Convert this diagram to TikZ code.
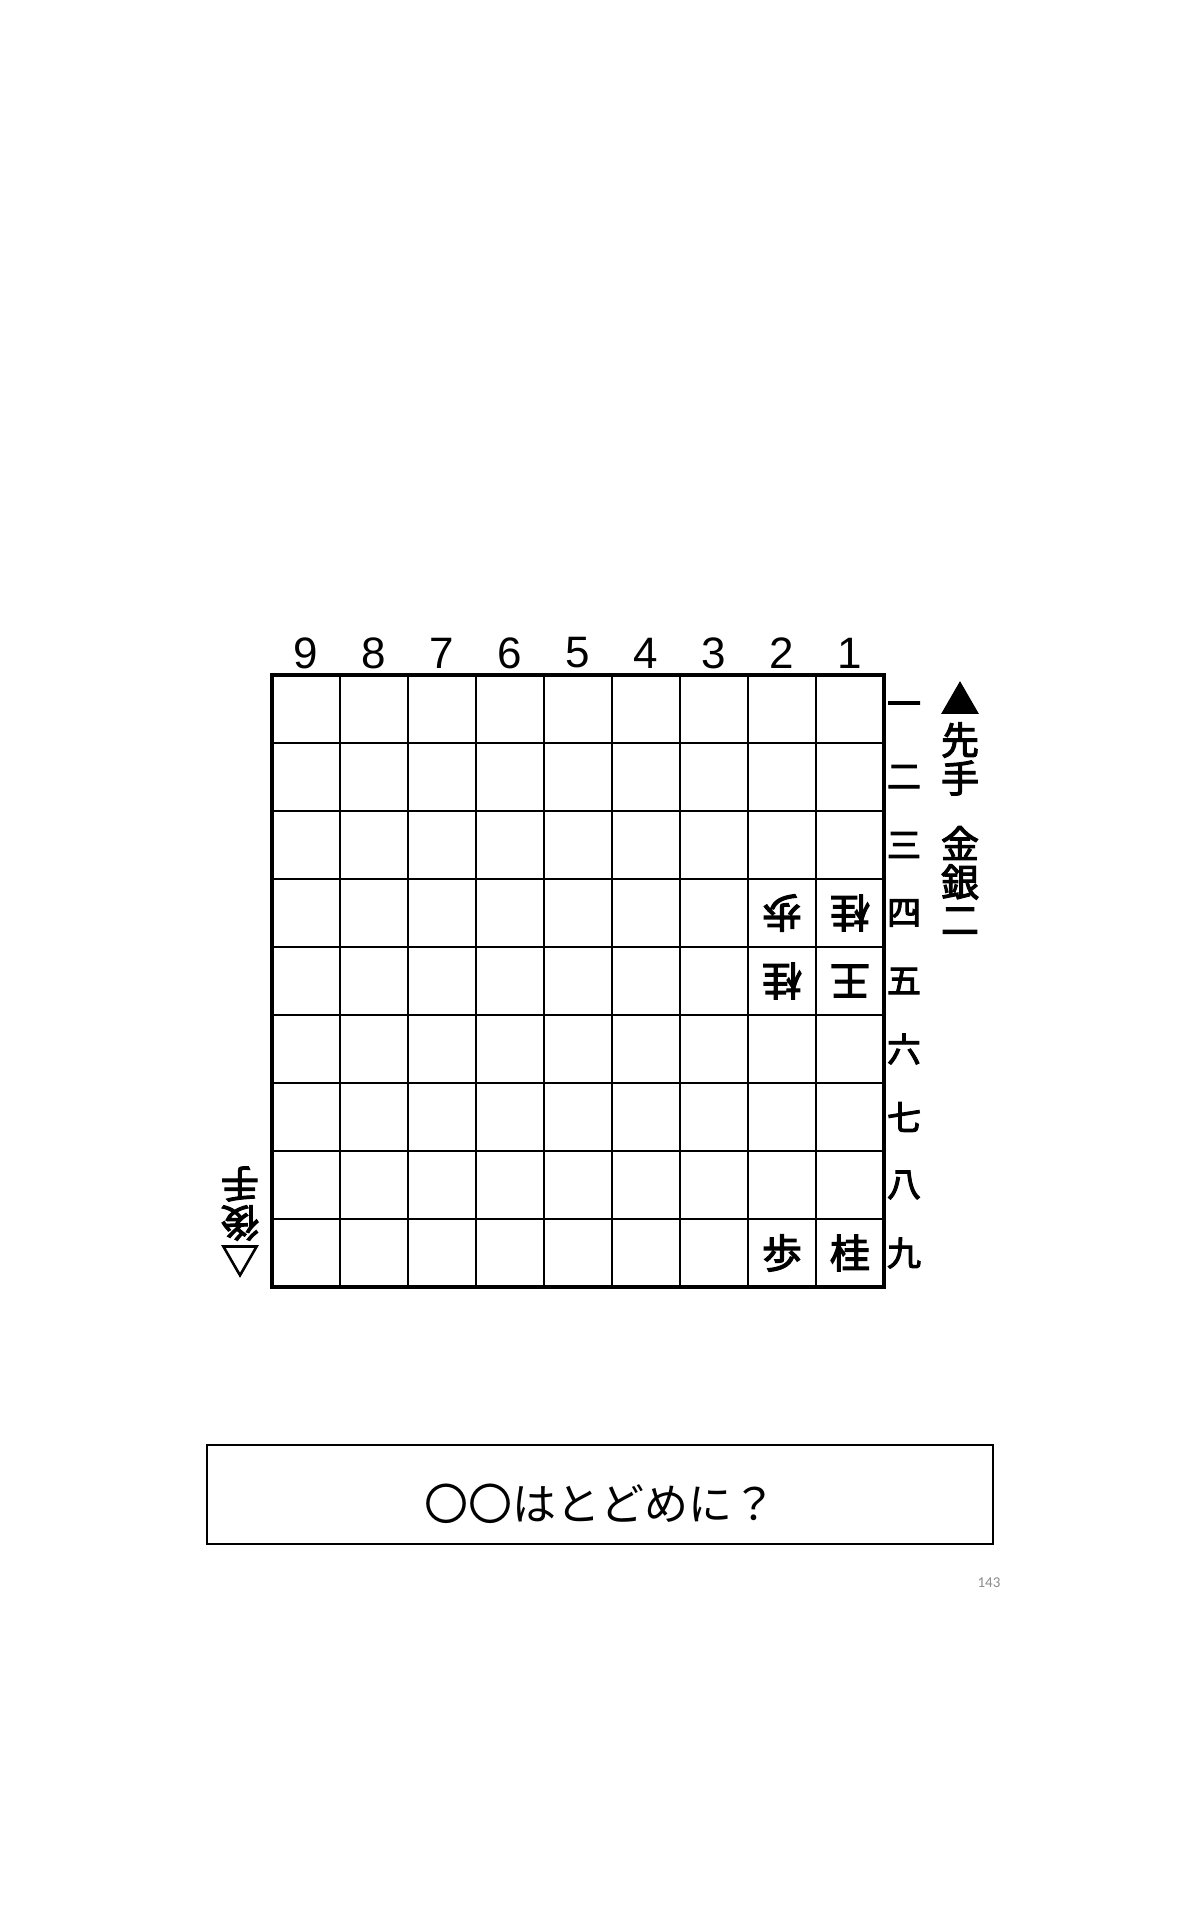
\documentclass[tikz,border=0pt]{standalone}
\usepackage{fontspec}
\usepackage{tikz}
\usetikzlibrary{positioning}
\newfontfamily\jpfont{Noto Sans CJK JP}
\newfontfamily\jpmed{Noto Sans CJK JP}[FakeBold=3]
\newfontfamily\numfont{Liberation Sans}
\newfontfamily\pgfont{Carlito}
\definecolor{pagegray}{RGB}{140,140,140}
\newcommand{\bx}{272}
\newcommand{\by}{675}
\newcommand{\cs}{68}

\begin{document}
\begin{tikzpicture}[x=0.5pt, y=-0.5pt,
    piece/.style={font=\jpmed\fontsize{20pt}{20pt}\selectfont, inner sep=0pt},
    gote/.style={piece, rotate=180},
    rowlab/.style={font=\jpmed\fontsize{17pt}{17pt}\selectfont, inner sep=0pt},
    collab/.style={font=\numfont\fontsize{22pt}{22pt}\selectfont, inner sep=0pt},
    side/.style={font=\jpmed\fontsize{19pt}{19pt}\selectfont, inner sep=0pt}]
    \useasboundingbox[fill=white] (0,0) rectangle (1200,1920);
    % board
    \foreach \i in {1,...,8} {
      \draw[line width=0.7pt] (\bx+\cs*\i,\by) -- (\bx+\cs*\i,\by+\cs*9);
      \draw[line width=0.7pt] (\bx,\by+\cs*\i) -- (\bx+\cs*9,\by+\cs*\i);
    }
    \draw[line width=1.8pt] (\bx,\by) rectangle (\bx+\cs*9,\by+\cs*9);
    % files and ranks
    \foreach \n [count=\i] in {9,8,7,6,5,4,3,2,1}
      \node[collab] (col\n) at (\bx+\cs*\i-\cs/2,653) {\n};
    \foreach \k [count=\i] in {一,二,三,四,五,六,七,八,九}
      \node[rowlab] (row\i) at (904,\by+\cs*\i-\cs/2) {\k};
    % pieces
    \node[gote]  (p24) at (782,913) {歩};
    \node[gote]  (p14) at (850,913) {桂};
    \node[gote]  (p25) at (782,981) {桂};
    \node[gote]  (p15) at (850,981) {王};
    \node[piece] (p29) at (782,1253) {歩};
    \node[piece] (p19) at (850,1253) {桂};
    % hands
    \foreach \c/\y [count=\i] in {▲/698,先/740,手/778,金/843,銀/882,二/921}
      \node[side] (sente\i) at (960,\y) {\c};
    \node[side, rotate=180] (gote1) at (240,1261) {△};
    \node[side, rotate=180] (gote2) at (240,1223) {後};
    \node[side, rotate=180] (gote3) at (240,1184) {手};
    % question
    \node[draw, line width=1pt, minimum width=786*0.5pt, minimum height=99*0.5pt,
      inner sep=0pt] (qbox) at (600,1494) {};
    \node[font=\jpfont\fontsize{22pt}{22pt}\selectfont] (qtext) at (600,1504)
      {〇〇はとどめに？};
    \node[font=\pgfont\fontsize{7.5pt}{7.5pt}\selectfont, text=pagegray] (pnum)
      at (989,1583) {143};
  \end{tikzpicture}
\end{document}
